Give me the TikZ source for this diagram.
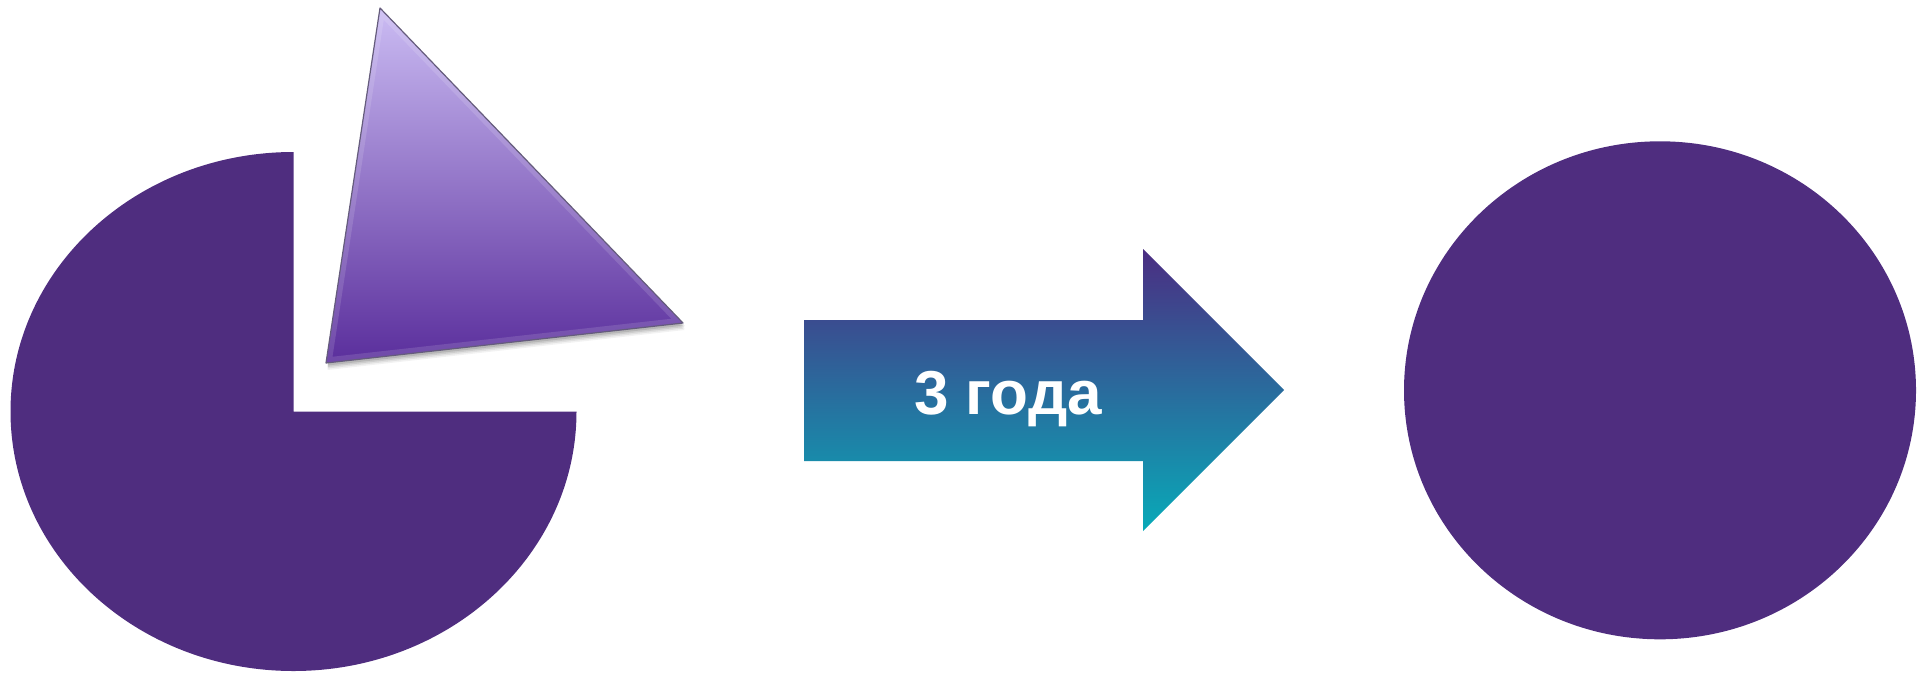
\documentclass[tikz,border=0pt]{standalone}
\usepackage{fontspec}
\newfontfamily\arialfont{Liberation Sans}
\definecolor{piecol}{HTML}{4F2D7F}
\definecolor{triTop}{HTML}{CBBCF3}
\definecolor{triBot}{HTML}{5A2E9C}
\definecolor{triEdge}{HTML}{655C7C}
\definecolor{arrTop}{HTML}{4B2D82}
\definecolor{arrBot}{HTML}{08AAB8}
\tikzset{
  piefill/.style={fill=piecol},
  wedge/.style={top color=triTop, bottom color=triBot},
  wedgeedge/.style={draw=triEdge, line width=1.2pt, line join=round},
  bevel/.style={draw=white, opacity=0.13, line width=11pt, line join=round},
  arrowshape/.style={top color=arrTop, bottom color=arrBot},
  lbl/.style={text=white, font=\arialfont\bfseries\fontsize{62}{62}\selectfont, inner sep=0pt}
}
\begin{document}
\begin{tikzpicture}[x=1pt,y=-1pt]
\useasboundingbox (0,0) rectangle (1917,673);
% left pie with missing quarter
\coordinate (pc) at (293.5,411.5);
\fill[piefill] (293.5,152) arc[start angle=90, end angle=360, x radius=283pt, y radius=259.5pt] -- (pc) -- cycle;
% triangle (cut slice)
\coordinate (ta) at (380,8);
\coordinate (tb) at (683,323);
\coordinate (tc) at (326,363);
\foreach \s/\o in {7/0.05,5.5/0.07,4/0.09,2.5/0.11}{
  \fill[black, opacity=\o] ([shift={(1.5,\s)}]ta) -- ([shift={(1.5,\s)}]tb) -- ([shift={(1.5,\s)}]tc) -- cycle;
}
\shade[wedge] (ta) -- (tb) -- (tc) -- cycle;
\begin{scope}
  \clip (ta) -- (tb) -- (tc) -- cycle;
  \draw[bevel] (ta) -- (tb) -- (tc) -- cycle;
\end{scope}
\draw[wedgeedge] (ta) -- (tb) -- (tc) -- cycle;
% arrow
\shade[arrowshape] (804,320) -- (1143,320) -- (1143,249) -- (1284,390) -- (1143,531) -- (1143,461) -- (804,461) -- cycle;
\node[lbl, anchor=base] (t) at (1008,414) {3 года};
% right circle
\fill[piefill] (1660,390.3) ellipse [x radius=256pt, y radius=249pt];
\end{tikzpicture}
\end{document}
